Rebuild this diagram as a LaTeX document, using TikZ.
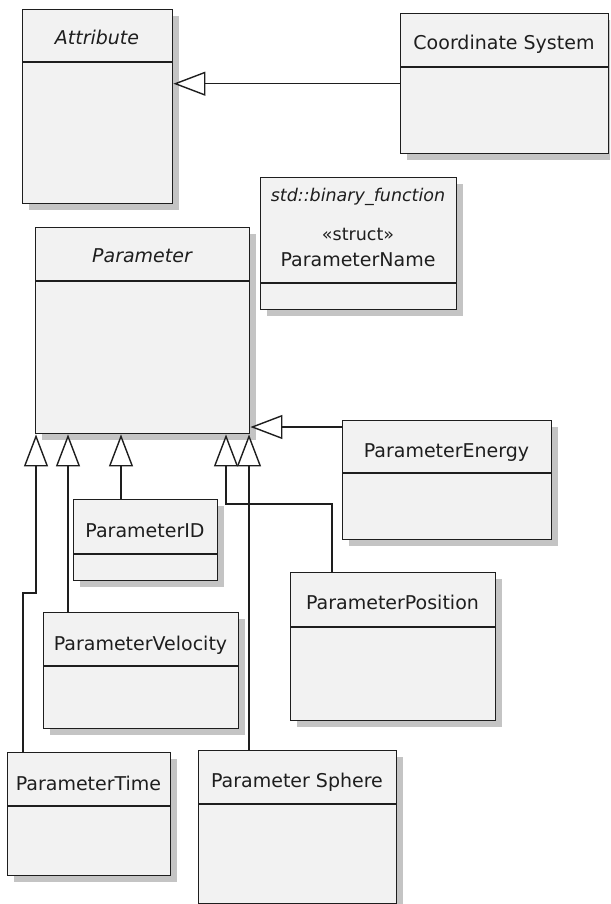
\documentclass[tikz,border=0pt]{standalone}
\usepackage{fontspec}
\setmainfont{DejaVu Sans}
\usetikzlibrary{arrows.meta,shadows}
\definecolor{linec}{HTML}{1E1E1E}
\definecolor{boxfill}{HTML}{F2F2F2}
\definecolor{shadowc}{HTML}{C4C4C4}
\begin{document}
\begin{tikzpicture}[x=1pt,y=-1pt,
  cls/.style={draw=linec, fill=boxfill, line width=1.4pt, rectangle, anchor=north west, inner sep=0pt,
    drop shadow={shadow xshift=6pt, shadow yshift=-6pt, fill=shadowc, opacity=1}},
  hline/.style={draw=linec, line width=1.4pt},
  lbl/.style={anchor=base, inner sep=0pt, text=linec, font=\fontsize{19}{22}\selectfont},
  ilbl/.style={lbl, font=\fontsize{19}{22}\selectfont\itshape},
  slbl/.style={lbl, font=\fontsize{17.5}{20}\selectfont},
  gen/.style={draw=linec, line width=1.4pt, -{Triangle[length=32pt,width=24pt,fill=white,line width=1.4pt]}},
  ]
\useasboundingbox (0,0) rectangle (610,904);
\clip (0,0) rectangle (610,904);

% classes
\node[cls, minimum width=150pt, minimum height=194pt] (Attr) at (22,9) {};
\node[cls, minimum width=208pt, minimum height=140pt] (CS) at (400,13) {};
\node[cls, minimum width=196pt, minimum height=132pt] (PN) at (260,177) {};
\node[cls, minimum width=214pt, minimum height=206pt] (P) at (35,227) {};
\node[cls, minimum width=209pt, minimum height=119pt] (PE) at (342,420) {};
\node[cls, minimum width=144pt, minimum height=81pt] (PID) at (73,499) {};
\node[cls, minimum width=205pt, minimum height=148pt] (PPos) at (290,572) {};
\node[cls, minimum width=195pt, minimum height=116pt] (PV) at (43,612) {};
\node[cls, minimum width=198pt, minimum height=153pt] (PS) at (198,750) {};
\node[cls, minimum width=163pt, minimum height=123pt] (PT) at (7,752) {};

% compartment lines
\draw[hline] (Attr.west |- 0,62) -- (Attr.east |- 0,62);
\draw[hline] (CS.west |- 0,67) -- (CS.east |- 0,67);
\draw[hline] (PN.west |- 0,283) -- (PN.east |- 0,283);
\draw[hline] (P.west |- 0,281) -- (P.east |- 0,281);
\draw[hline] (PE.west |- 0,473) -- (PE.east |- 0,473);
\draw[hline] (PID.west |- 0,554) -- (PID.east |- 0,554);
\draw[hline] (PPos.west |- 0,627) -- (PPos.east |- 0,627);
\draw[hline] (PV.west |- 0,666) -- (PV.east |- 0,666);
\draw[hline] (PS.west |- 0,804) -- (PS.east |- 0,804);
\draw[hline] (PT.west |- 0,806) -- (PT.east |- 0,806);

% labels
\node[ilbl] (Attr-t) at (97,44.5) {Attribute};
\node[lbl] (CS-t) at (504,50) {Coordinate System};
\node[slbl, font=\fontsize{17.5}{20}\selectfont\itshape] (PN-s) at (358,201.5) {std::binary\_function};
\node[slbl] (PN-st) at (358,240) {«struct»};
\node[lbl] (PN-t) at (358,266.5) {ParameterName};
\node[ilbl] (P-t) at (142,262.3) {Parameter};
\node[lbl] (PE-t) at (446.5,457.3) {ParameterEnergy};
\node[lbl] (PID-t) at (145,537.3) {ParameterID};
\node[lbl] (PPos-t) at (392.5,609.3) {ParameterPosition};
\node[lbl] (PV-t) at (140.5,650) {ParameterVelocity};
\node[lbl] (PS-t) at (297,787.7) {Parameter Sphere};
\node[lbl] (PT-t) at (88.5,790) {ParameterTime};

% bend / attachment coordinates
\coordinate (cPE) at (342,427);
\coordinate (t1) at (23,593);
\coordinate (t2) at (36,593);
\coordinate (cV) at (68,600);
\coordinate (cID) at (121,490);
\coordinate (p1) at (332,504);
\coordinate (p2) at (226,504);
\coordinate (cS) at (249,600);

% generalizations
\draw[gen] (CS.west) -- (Attr.east |- CS.west);
\draw[gen] (cPE) -- (P.east |- cPE);
\draw[gen] (PT.north -| t1) -- (t1) -- (t2) -- (P.south -| t2);
\draw[gen] (PV.north -| cV) -- (P.south -| cV);
\draw[gen] (PID.north -| cID) -- (P.south -| cID);
\draw[gen] (PPos.north -| p1) -- (p1) -- (p2) -- (P.south -| p2);
\draw[gen] (PS.north -| cS) -- (P.south -| cS);
\end{tikzpicture}
\end{document}
